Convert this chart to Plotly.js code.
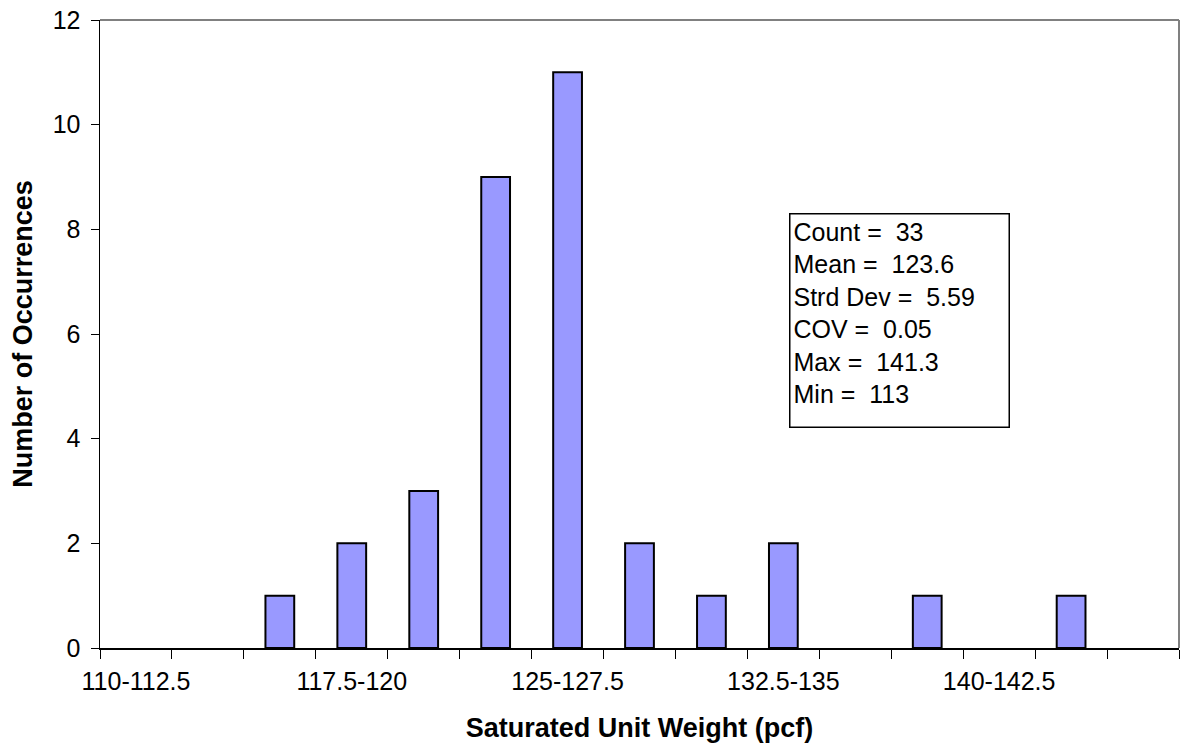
<!DOCTYPE html>
<html>
<head>
<meta charset="utf-8">
<script src="https://cdn.plot.ly/plotly-3.0.1.min.js"></script>
<style>html,body{margin:0;padding:0;background:#fff;}#chart{width:1183px;height:752px;}</style>
</head>
<body>
<div id="chart"></div>
<script>
const categories = ["110-112.5","112.5-115","115-117.5","117.5-120","120-122.5","122.5-125","125-127.5","127.5-130","130-132.5","132.5-135","135-137.5","137.5-140","140-142.5","142.5-145","145-147.5"];
const occurrences = [0,0,1,2,3,9,11,2,1,2,0,1,0,1,0];
const statsLines = ["Count = &nbsp;33","Mean = &nbsp;123.6","Strd Dev = &nbsp;5.59","COV = &nbsp;0.05","Max = &nbsp;141.3","Min = &nbsp;113"];
const labelEvery = 3;

const xIdx = categories.map((c,i)=>i);
const labelIdx = xIdx.filter(i => i % labelEvery === 0);
const boundaries = categories.map((c,i)=>i-0.5).concat([categories.length-0.5]);

const fam = "Arial, 'Liberation Sans', sans-serif";
const tickFont = {family:fam, size:25, color:"#000"};
const titleFont = {family:fam, size:27, color:"#000"};
const boxFont = {family:fam, size:25, color:"#000"};

const trace = {
  type:"bar",
  x:xIdx,
  y:occurrences,
  width:0.4,
  marker:{color:"#9999FF", line:{color:"#000", width:occurrences.map(v => v > 0 ? 2 : 0)}},
  hoverinfo:"skip"
};

const layout = {
  width:1183, height:752,
  margin:{l:100, r:4, t:20, b:104},
  paper_bgcolor:"#fff", plot_bgcolor:"#fff",
  font:tickFont,
  showlegend:false,
  xaxis:{
    range:[-0.5, categories.length-0.5],
    tickmode:"array",
    tickvals:labelIdx,
    ticktext:labelIdx.map(i=>categories[i]),
    ticks:"",
    ticklabelstandoff:10,
    minor:{tickmode:"array", tickvals:boundaries, ticks:"outside", ticklen:9, tickwidth:1, tickcolor:"#000", showgrid:false},
    showgrid:false, zeroline:false,
    showline:true, linecolor:"#000", linewidth:1.5,
    tickfont:tickFont,
    title:{text:"<b>Saturated Unit Weight (pcf)</b>", font:titleFont, standoff:24}
  },
  yaxis:{
    range:[0,12],
    dtick:2,
    ticks:"outside", ticklen:8, tickwidth:1, tickcolor:"#000",
    showgrid:false, zeroline:false,
    showline:true, linecolor:"#000", linewidth:1.5,
    ticklabelstandoff:5,
    tickfont:tickFont,
    title:{text:"<b>Number of Occurrences</b>", font:titleFont, standoff:12}
  },
  shapes:[
    {type:"line", xref:"paper", yref:"paper", x0:0, x1:1, y0:1, y1:1, line:{color:"#808080", width:2}},
    {type:"line", xref:"paper", yref:"paper", x0:1, x1:1, y0:0, y1:1, line:{color:"#808080", width:2}}
  ],
  annotations:[{
    xref:"paper", yref:"paper",
    x:0.6386, y:0.6927, xanchor:"left", yanchor:"top",
    text:statsLines.join("<br>"),
    showarrow:false, align:"left", valign:"top",
    width:212, height:206,
    bordercolor:"#000", borderwidth:1.5, borderpad:3, bgcolor:"#fff",
    font:boxFont
  }]
};

Plotly.newPlot("chart",[trace],layout,{displayModeBar:false, staticPlot:true});
</script>
</body>
</html>
